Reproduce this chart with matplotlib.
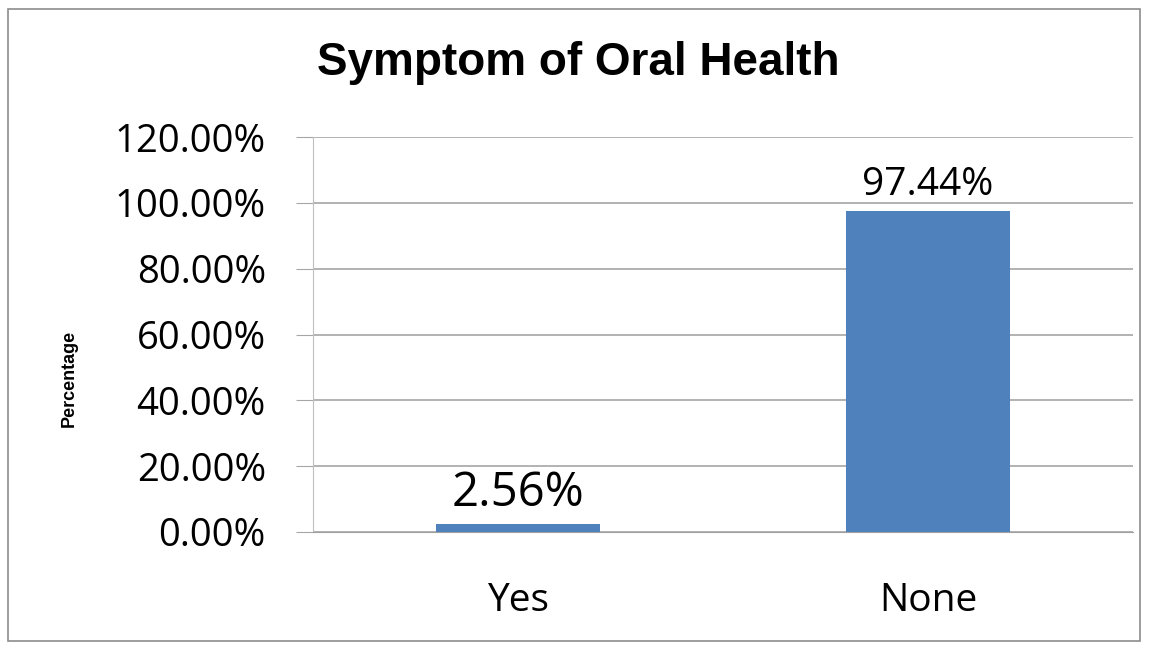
import matplotlib.pyplot as plt
from matplotlib.patches import Rectangle
from matplotlib.ticker import PercentFormatter

# symptom counts as share of respondents
categories = ["Yes", "None"]
percentages = [2.56, 97.44]
label_sizes = [34, 28]
yticks = [0, 20, 40, 60, 80, 100, 120]

fig = plt.figure(figsize=(11.49, 6.51), dpi=100)
ax = fig.add_axes([313/1149, 1 - 532/651, 820/1149, 395/651])

bars = ax.bar(range(len(categories)), percentages, width=0.4,
              color="#4F81BD", zorder=3)

ax.set_xlim(-0.5, len(categories) - 0.5)
ax.set_ylim(0, 120)
ax.set_yticks(yticks)
ax.yaxis.set_major_formatter(PercentFormatter(decimals=2))
ax.set_xticks(range(len(categories)))
ax.set_xticklabels(categories)

for side in ["top", "right"]:
    ax.spines[side].set_visible(False)
ax.spines["left"].set_color("#BFBFBF")
ax.spines["bottom"].set_color("#A0A0A0")
ax.grid(axis="y", color="#A6A6A6", lw=1.2, zorder=0)
ax.tick_params(axis="y", length=12, color="#A6A6A6", labelsize=27.5, pad=22)
ax.tick_params(axis="x", length=0, labelsize=28, pad=36)
for lbl in ax.get_yticklabels() + ax.get_xticklabels():
    lbl.set_family("Open Sans")

for bar, val, fs in zip(bars, percentages, label_sizes):
    ax.annotate("%.2f%%" % val, (bar.get_x() + bar.get_width()/2, val),
                xytext=(0, 5), textcoords="offset points",
                ha="center", va="bottom", fontsize=fs, family="Open Sans")

fig.text(0.06, 1 - 378/651, "Percentage", rotation=90, ha="center", va="center",
         fontsize=13, fontweight="bold", family="Liberation Sans")
fig.text(578/1149, 1 - 63/651, "Symptom of Oral Health", ha="center", va="center",
         fontsize=33, fontweight="bold", family="Liberation Sans")

# outer chart frame
fig.patches.append(Rectangle((8/1149, 10/651), 1132/1149, 632/651,
                             transform=fig.transFigure, fill=False,
                             edgecolor="#8C8C8C", lw=1.2))

fig.savefig("out.png", dpi=100)
